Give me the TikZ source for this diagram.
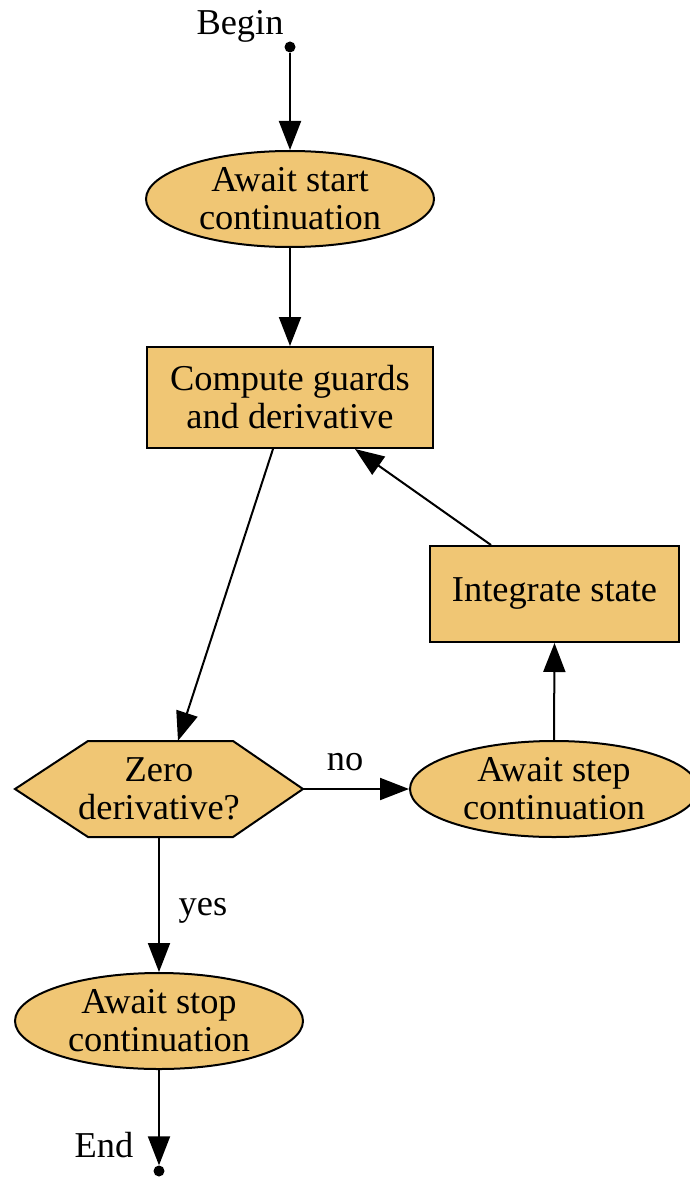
\documentclass[tikz,border=0pt]{standalone}
\usepackage{fontspec}
\setmainfont{Liberation Serif}
\usetikzlibrary{arrows.meta,shapes.geometric}
\definecolor{stepfill}{RGB}{240,198,116}
\tikzset{
  base/.style={draw=black, line width=2pt, fill=stepfill, inner sep=0pt, align=center,
    font=\fontsize{36.4}{38}\selectfont},
  waitnode/.style={base, ellipse, minimum width=288pt, minimum height=96pt},
  procnode/.style={base, rectangle},
  lbl/.style={font=\fontsize{36.4}{38}\selectfont, inner sep=0pt, anchor=base},
  term/.style={circle, fill=black, inner sep=0pt, minimum size=11pt},
  flow/.style={line width=2pt, -{Triangle[length=29pt, width=22pt]}},
}
\begin{document}
\begin{tikzpicture}[x=1pt, y=-1pt]
  \useasboundingbox (0,0) rectangle (690,1177);

  % terminals
  \node[term] (begin) at (290,47) {};
  \node[lbl] (beginlbl) at (240,35) {Begin};
  \node[term] (end) at (159,1171) {};
  \node[lbl] (endlbl) at (104,1157) {End};

  % states and actions
  \node[waitnode] (start) at (290,199) {Await start\\continuation};
  \node[procnode, minimum width=286pt, minimum height=101pt] (compute) at (290,397.5) {Compute guards\\and derivative};
  \node[procnode, minimum width=249pt, minimum height=96pt] (integrate) at (554.5,594) {Integrate state};
  \node[waitnode] (step) at (554,789) {Await step\\continuation};
  \node[waitnode] (stop) at (159,1021) {Await stop\\continuation};

  % decision hexagon
  \draw[line width=2pt, fill=stepfill] (15,789) -- (88,741) -- (233,741) -- (303,789)
    -- (233,837) -- (88,837) -- cycle;
  \node[rectangle, inner sep=0pt, minimum width=288pt, minimum height=96pt, align=center,
    font=\fontsize{36.4}{38}\selectfont] (zero) at (159,789) {Zero\\derivative?};

  % connectors
  \draw[flow] (begin) -- (start.north);
  \draw[flow] (start.south) -- (compute.north);
  \draw[flow] ([xshift=-17pt]compute.south) -- ([xshift=19pt]zero.north);
  \draw[flow] (zero.east) -- (step.west);
  \draw[flow] (step.north) -- (integrate.south);
  \draw[flow] ([xshift=-63.5pt]integrate.north) -- ([xshift=65pt]compute.south);
  \draw[flow] (zero.south) -- (stop.north);
  \draw[flow] (stop.south) -- (end.north);

  % edge labels
  \node[lbl] (nolbl) at (345,770) {no};
  \node[lbl] (yeslbl) at (203,915) {yes};
\end{tikzpicture}
\end{document}
